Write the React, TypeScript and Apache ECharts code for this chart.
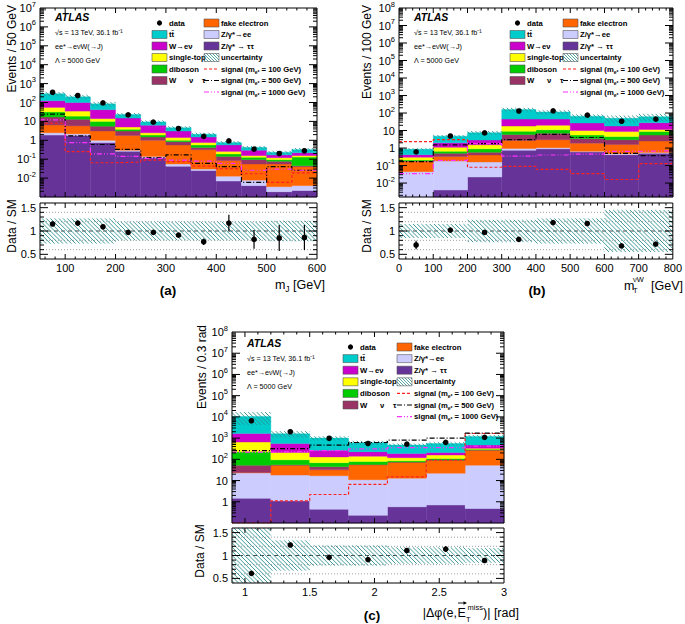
import React, { useEffect, useRef } from 'react';
import * as echarts from 'echarts';

const FONT = '"Liberation Sans", Arial, Helvetica, sans-serif';

// ---------------- background processes (stack order, bottom to top) ----------------
const PROCESS_NAMES = ['Z/γ* → ττ', 'Z/γ*→ee', 'fake electron', 'W      ν    τ', 'diboson', 'single-top', 'W→eν', 'tt\u0304'];
const PROCESS_COLORS = ['#663399', '#ccccff', '#ff6600', '#993366', '#00cc00', '#ffff00', '#cc00cc', '#00cccc'];
const SIGNAL_NAMES = ['signal (m{s|e*} = 100 GeV)', 'signal (m{s|e*} = 500 GeV)', 'signal (m{s|e*} = 1000 GeV)'];
const SIGNAL_COLORS = ['#ff2020', '#000000', '#ff30ff'];
const SIGNAL_DASH = [[3, 2], [5, 2, 1, 2], [5, 2, 1, 2, 1, 2]];
const HATCH = '#2e9090';

// ---------------- Panel (a): m_J ----------------
const aEdges = [50, 100, 150, 200, 250, 300, 350, 400, 450, 500, 550, 600];
const aZtautau = [1.9, 1.8, 0.76, 0.26, 0.12, 0.043, 0.025, 0.007, 0.004, 0.0019, 0.0022];
const aZee = [0.6, 0.4, 0.24, 0.04, 0.02, 0.013, 0.005, 0.0056, 0.0038, 0.0016, 0.0018];
const aFake = [4.0, 3.6, 2.1, 1.5, 0.86, 0.51, 0.29, 0.072, 0.048, 0.052, 0.036];
const aWtaunu = [10.5, 7.2, 2.5, 1.3, 0.5, 0.28, 0.1, 0.055, 0.04, 0.022, 0.005];
const aDiboson = [15, 6, 4.4, 0.7, 0.4, 0.15, 0.15, 0.05, 0.031, 0.018, 0.085];
const aSingleTop = [23, 16, 4, 1.2, 0.6, 0.4, 0.19, 0.07, 0.028, 0.024, 0.025];
const aWenu = [70, 65, 28, 10, 3.8, 1.7, 0.74, 0.31, 0.145, 0.05, 0.065];
const aTtbar = [165, 100, 43, 8, 3.1, 1.5, 0.6, 0.19, 0.12, 0.06, 0.1];
const aData = [350, 235, 95, 22, 9.1, 4.2, 1.6, 0.93, 0.34, 0.2, 0.28];
const aRatio = [1.15, 1.17, 1.09, 0.97, 0.97, 0.91, 0.77, 1.17, 0.82, 0.85, 0.86];
const aRatioErr = [0.02, 0.02, 0.03, 0.04, 0.04, 0.04, 0.07, 0.18, 0.2, 0.28, 0.27];
const aUnc = [0.27, 0.27, 0.27, 0.2, 0.2, 0.2, 0.2, 0.2, 0.2, 0.22, 0.22];
const aSig100 = [8, 0.25, 0.065, 0.07, 0.09, 0.075, 0.043, 0.032, 0.017, 0.006, 0.019];
const aSig500 = [24, 1.7, 0.6, 0.33, 0.12, 0.17, 0.06, 0.04, 0.006, 0.04, 0.026];
const aSig1000 = [12, 0.75, 0.19, 0.14, 0.11, 0.09, 0.08, 0.06, 0.026, 0.03, 0.026];
const aXLabels = [100, 200, 300, 400, 500, 600];
const aYLabels = [1e-2, 1e-1, 1, 10, 1e2, 1e3, 1e4, 1e5, 1e6, 1e7];

// ---------------- Panel (b): m_T^{nuW} ----------------
const bEdges = [0, 100, 200, 300, 400, 500, 600, 700, 800];
const bZtautau = [0, 0.004, 0.022, 0.75, 0.9, 0.6, 0.42, 0.5];
const bZee = [0.045, 0.176, 0.138, 0.2, 0.15, 0.05, 0.05, 0.05];
const bFake = [0.125, 0.15, 0.24, 1.75, 1.95, 1.25, 1.13, 1.95];
const bWtaunu = [0.02, 0.17, 0.18, 3.3, 4.0, 1.6, 1.4, 3.0];
const bDiboson = [0.02, 0.15, 0.32, 3.0, 4.0, 2.0, 1.5, 3.2];
const bSingleTop = [0.09, 0.45, 0.65, 9, 9, 4.5, 4.2, 2.8];
const bWenu = [0.12, 0.9, 1.35, 27, 25, 17, 9.3, 16.5];
const bTtbar = [0.43, 2.8, 4.7, 115, 70, 39, 32, 34];
const bData = [0.6, 4.9, 7.3, 130, 132, 76, 34, 45];
const bRatio = [0.70, 1.02, 0.97, 0.82, 1.18, 1.16, 0.68, 0.72];
const bRatioErr = [0.09, 0.04, 0.04, 0.02, 0.02, 0.03, 0.03, 0.03];
const bUnc = [0.15, 0.15, 0.24, 0.24, 0.27, 0.27, 0.45, 0.45];
const bSig100 = [2.3, 3.0, 0.08, 0.09, 0.06, 0.035, 0.016, 0.13];
const bSig500 = [0.17, 1.5, 1.8, 3.0, 6.0, 4.0, 0.5, 0.37];
const bSig1000 = [0.035, 0.2, 1.8, 0.35, 0.4, 0.45, 0.65, 0.7];
const bXLabels = [0, 100, 200, 300, 400, 500, 600, 700, 800];
const bYLabels = [1e-2, 1e-1, 1, 10, 1e2, 1e3, 1e4, 1e5, 1e6, 1e7, 1e8];

// ---------------- Panel (c): |dphi(e, MET)| ----------------
const cEdges = [0.9, 1.2, 1.5, 1.8, 2.1, 2.4, 2.7, 3.0];
const cZtautau = [1.45, 1.1, 0.45, 0.23, 0.58, 0.7, 0.48];
const cZee = [21.5, 17, 16.5, 10.8, 12.4, 21.3, 52.5];
const cFake = [1, 34, 15, 44, 59, 68, 212];
const cWtaunu = [29, 3, 13, 2, 2, 2, 10];
const cDiboson = [172, 40, 25, 23, 11, 18, 25];
const cSingleTop = [425, 115, 60, 60, 35, 50, 30];
const cWenu = [1000, 350, 140, 90, 70, 50, 140];
const cTtbar = [8850, 1040, 730, 380, 280, 340, 730];
const cData = [6600, 2000, 980, 560, 520, 630, 1080];
const cRatio = [0.61, 1.23, 0.96, 0.91, 1.11, 1.14, 0.89];
const cRatioErr = [0.02, 0.03, 0.04, 0.04, 0.05, 0.06, 0.03];
const cUnc = [0.6, 0.33, 0.22, 0.22, 0.18, 0.18, 0.16];
const cSig100 = [0.1, 1.1, 2.2, 6.6, 15, 92, 1650];
const cSig500 = [260, 320, 470, 620, 800, 1000, 1700];
const cSig1000 = [220, 230, 260, 310, 360, 350, 420];
const cXLabels = [1, 1.5, 2, 2.5, 3];
const cYLabels = [1, 10, 1e2, 1e3, 1e4, 1e5, 1e6, 1e7, 1e8];

const RATIO_Y_LABELS = [0.5, 1, 1.5];
const RATIO_REF_LINES = [0.6, 0.8, 1.0, 1.2, 1.4];

const PANELS: any[] = [
  {
    edges: aEdges, stack: [aZtautau, aZee, aFake, aWtaunu, aDiboson, aSingleTop, aWenu, aTtbar],
    data: aData, ratio: aRatio, ratioErr: aRatioErr, unc: aUnc, sig: [aSig100, aSig500, aSig1000],
    xLabels: aXLabels, yLabels: aYLabels,
    xMin: 50, xMax: 600, xMajor: 100, xMinor: 20, yMin: 1e-3, yMax: 1e7,
    main: { left: 40, top: 5, width: 277, height: 192 },
    rat: { left: 40, top: 203, width: 277, height: 56 },
  },
  {
    edges: bEdges, stack: [bZtautau, bZee, bFake, bWtaunu, bDiboson, bSingleTop, bWenu, bTtbar],
    data: bData, ratio: bRatio, ratioErr: bRatioErr, unc: bUnc, sig: [bSig100, bSig500, bSig1000],
    xLabels: bXLabels, yLabels: bYLabels,
    xMin: 0, xMax: 800, xMajor: 100, xMinor: 20, yMin: 0.0016, yMax: 1e8,
    main: { left: 399, top: 5, width: 274, height: 192 },
    rat: { left: 399, top: 203, width: 274, height: 56 },
  },
  {
    edges: cEdges, stack: [cZtautau, cZee, cFake, cWtaunu, cDiboson, cSingleTop, cWenu, cTtbar],
    data: cData, ratio: cRatio, ratioErr: cRatioErr, unc: cUnc, sig: [cSig100, cSig500, cSig1000],
    xLabels: cXLabels, yLabels: cYLabels,
    xMin: 0.9, xMax: 3.0, xMajor: 0.5, xMinor: 0.1, yMin: 0.1, yMax: 1e8,
    main: { left: 232, top: 332, width: 272, height: 191 },
    rat: { left: 232, top: 528, width: 272, height: 55 },
  },
];

// ---------------- helpers ----------------
function hatchSegments(x: number, y: number, w: number, h: number, spacing: number, style: any, z?: number) {
  const out: any[] = [];
  const x1 = x + w, y1 = y + h;
  const cStart = Math.ceil((y - x1) / spacing) * spacing;
  for (let c = cStart; c <= y1 - x; c += spacing) {
    const xa = Math.max(x, y - c);
    const xb = Math.min(x1, y1 - c);
    if (xb - xa > 0.05) {
      const el: any = { type: 'line', shape: { x1: xa, y1: xa + c, x2: xb, y2: xb + c }, style };
      if (z !== undefined) { el.z = z; el.silent = true; }
      out.push(el);
    }
  }
  return out;
}

function clipTo(cs: any, r: any) {
  return echarts.graphic.clipRectByRect(r, { x: cs.x, y: cs.y, width: cs.width, height: cs.height });
}

function rectFromValues(api: any, cs: any, lo: number, hi: number, top: number, base: number) {
  const pTop = api.coord([lo, top]);
  const pHi = api.coord([hi, top]);
  const bottomPx = cs.y + cs.height + 1;
  const yb = base > 0 ? api.coord([lo, base])[1] : bottomPx;
  if (!isFinite(pTop[1]) || !isFinite(yb)) return undefined;
  return clipTo(cs, { x: pTop[0], y: pTop[1], width: pHi[0] - pTop[0], height: yb - pTop[1] });
}

function logFmt(v: number) {
  const e = Math.round(Math.log10(v));
  if (e === 0) return '1';
  if (e === 1) return '10';
  return '10{sup|' + e + '}';
}

function near(v: number, step: number) {
  return Math.abs(v / step - Math.round(v / step)) < 1e-6;
}

function makeTicks(p: any, isRatio: boolean) {
  const items: any[] = [];
  const yRef = isRatio ? 1 : p.yMax;
  const i0 = Math.ceil(p.xMin / p.xMinor - 1e-6), i1 = Math.floor(p.xMax / p.xMinor + 1e-6);
  for (let i = i0; i <= i1; i++) {
    const v = i * p.xMinor;
    if (Math.abs(v - p.xMin) < 1e-9 || Math.abs(v - p.xMax) < 1e-9) continue;
    items.push([v, yRef, 0, near(v, p.xMajor) ? 1 : 0]);
  }
  if (isRatio) {
    for (let i = 5; i <= 15; i++) {
      const v = i / 10;
      items.push([p.xMin, v, 1, near(v, 0.5) ? 1 : 0]);
    }
  } else {
    const e0 = Math.floor(Math.log10(p.yMin)), e1 = Math.ceil(Math.log10(p.yMax));
    for (let e = e0; e <= e1; e++) {
      for (let m = 1; m <= 9; m++) {
        const v = m * Math.pow(10, e);
        if (v > p.yMin * 1.0001 && v < p.yMax * 0.9999) items.push([p.xMin, v, 1, m === 1 ? 1 : 0]);
      }
    }
  }
  items.push([p.xMin, yRef, 2, 0]);
  return items;
}

function tickSeries(p: any, gi: number, isRatio: boolean) {
  const xMaj = 5, xMin = 2.5, yMaj = 8, yMin = 4;
  return {
    type: 'custom', xAxisIndex: gi, yAxisIndex: gi, z: 20, silent: true,
    encode: { x: 0, y: 1 },
    data: makeTicks(p, isRatio),
    renderItem: (params: any, api: any) => {
      const cs = params.coordSys;
      const kind = api.value(2), major = api.value(3);
      const st = { stroke: '#000', lineWidth: 1 };
      if (kind === 2) {
        return { type: 'rect', shape: { x: cs.x, y: cs.y, width: cs.width, height: cs.height }, style: { fill: 'none', stroke: '#000', lineWidth: 1 } };
      }
      const pt = api.coord([api.value(0), api.value(1)]);
      if (kind === 0) {
        const L = major ? xMaj : xMin;
        const b = cs.y + cs.height;
        return { type: 'group', children: [
          { type: 'line', shape: { x1: pt[0], y1: b, x2: pt[0], y2: b - L }, style: st },
          { type: 'line', shape: { x1: pt[0], y1: cs.y, x2: pt[0], y2: cs.y + L }, style: st },
        ] };
      }
      const L = major ? yMaj : yMin;
      const r = cs.x + cs.width;
      return { type: 'group', children: [
        { type: 'line', shape: { x1: cs.x, y1: pt[1], x2: cs.x + L, y2: pt[1] }, style: st },
        { type: 'line', shape: { x1: r, y1: pt[1], x2: r - L, y2: pt[1] }, style: st },
      ] };
    },
  };
}

function text(x: number, y: number, t: string, o: any = {}) {
  const align = o.align || 'left';
  const valign = o.valign || 'middle';
  return {
    type: 'text', x, y, rotation: o.rotation || 0, silent: true, z: 100,
    style: {
      text: t, fill: '#000', fontFamily: FONT, fontSize: o.size || 8,
      fontWeight: o.weight || 'normal', fontStyle: o.italic ? 'italic' : 'normal',
      align, verticalAlign: valign, textAlign: align, textVerticalAlign: valign,
      rich: o.rich,
    },
  };
}

function legendGraphic(atlasX: number, atlasY: number, c1x: number, c2x: number, y0: number, step: number) {
  const els: any[] = [];
  const bw = 15, bh = 8, fs = 7.7;
  els.push(text(atlasX, atlasY, 'ATLAS', { size: 10.5, weight: 'bold', italic: true }));
  els.push(text(atlasX, atlasY + 15.5, '√s = 13 TeV, 36.1 fb⁻¹', { size: 7.2 }));
  els.push(text(atlasX, atlasY + 29.5, 'ee*→eνW(→J)', { size: 7.2 }));
  els.push(text(atlasX, atlasY + 43.5, 'Λ = 5000 GeV', { size: 7.2 }));
  // column 1
  const col1 = [7, 6, 5, 4, 3];
  els.push({ type: 'circle', silent: true, z: 100, shape: { cx: c1x + bw / 2, cy: y0, r: 2.6 }, style: { fill: '#000' } });
  els.push(text(c1x + 17, y0, 'data', { size: fs, weight: 'bold' }));
  col1.forEach((k, i) => {
    const y = y0 + (i + 1) * step;
    els.push({ type: 'rect', silent: true, z: 100, shape: { x: c1x, y: y - bh / 2, width: bw, height: bh }, style: { fill: PROCESS_COLORS[k], stroke: '#555', lineWidth: 0.6 } });
    els.push(text(c1x + 17, y, PROCESS_NAMES[k], { size: fs, weight: 'bold' }));
  });
  // column 2
  const col2 = [2, 1, 0];
  col2.forEach((k, i) => {
    const y = y0 + i * step;
    els.push({ type: 'rect', silent: true, z: 100, shape: { x: c2x, y: y - bh / 2, width: bw, height: bh }, style: { fill: PROCESS_COLORS[k], stroke: '#555', lineWidth: 0.6 } });
    els.push(text(c2x + 17, y, PROCESS_NAMES[k], { size: fs, weight: 'bold' }));
  });
  {
    const y = y0 + 3 * step;
    els.push(...hatchSegments(c2x, y - bh / 2, bw, bh, 3, { stroke: HATCH, lineWidth: 0.8 }, 100));
    els.push({ type: 'rect', silent: true, z: 101, shape: { x: c2x, y: y - bh / 2, width: bw, height: bh }, style: { fill: 'none', stroke: '#555', lineWidth: 0.6 } });
    els.push(text(c2x + 17, y, 'uncertainty', { size: fs, weight: 'bold' }));
  }
  SIGNAL_NAMES.forEach((nm, i) => {
    const y = y0 + (4 + i) * step;
    els.push({ type: 'line', silent: true, z: 100, shape: { x1: c2x, y1: y, x2: c2x + bw, y2: y }, style: { stroke: SIGNAL_COLORS[i], lineWidth: 1.2, lineDash: SIGNAL_DASH[i] } });
    els.push(text(c2x + 17, y, nm, {
      size: fs, weight: 'bold',
      rich: { s: { fontSize: 5, fontWeight: 'bold', fontFamily: FONT, fill: '#000', padding: [5, 0, 0, 0] } },
    }));
  });
  return els;
}

function buildOption() {
  const grid: any[] = [], xAxis: any[] = [], yAxis: any[] = [], series: any[] = [];
  const axisOff = { axisLine: { show: false }, axisTick: { show: false }, splitLine: { show: false }, minorTick: { show: false } };
  const labelBase = { fontSize: 11, fontFamily: FONT, color: '#000' };

  PANELS.forEach((p, pi) => {
    const gm = pi * 2, gr = pi * 2 + 1;
    grid.push({ ...p.main, show: false });
    grid.push({ ...p.rat, show: false });
    xAxis.push({ type: 'value', gridIndex: gm, min: p.xMin, max: p.xMax, ...axisOff, axisLabel: { show: false } });
    xAxis.push({
      type: 'value', gridIndex: gr, min: p.xMin, max: p.xMax, ...axisOff,
      axisLabel: { ...labelBase, margin: 3, customValues: p.xLabels, formatter: (v: number) => String(Math.round(v * 10) / 10) },
    });
    yAxis.push({
      type: 'log', logBase: 10, gridIndex: gm, min: p.yMin, max: p.yMax, ...axisOff,
      axisLabel: {
        ...labelBase, margin: 4, customValues: p.yLabels, formatter: logFmt,
        rich: { sup: { fontSize: 7.5, fontFamily: FONT, color: '#000', padding: [0, 0, 8, 0] } },
      },
    });
    yAxis.push({
      type: 'value', gridIndex: gr, min: 0.4, max: 1.6, ...axisOff,
      axisLabel: { ...labelBase, margin: 4, customValues: RATIO_Y_LABELS, formatter: (v: number) => String(Math.round(v * 10) / 10) },
    });

    const nb = p.edges.length - 1;
    // stacked background histograms
    const cum = new Array(nb).fill(0);
    p.stack.forEach((vals: number[], k: number) => {
      const items: any[] = [];
      for (let i = 0; i < nb; i++) {
        const base = cum[i];
        const top = base + vals[i];
        cum[i] = top;
        if (vals[i] > 0) items.push([p.edges[i], p.edges[i + 1], top, base]);
      }
      const color = PROCESS_COLORS[k];
      series.push({
        type: 'custom', name: PROCESS_NAMES[k], xAxisIndex: gm, yAxisIndex: gm, z: 2, silent: true,
        encode: { x: [0, 1], y: 2 }, data: items,
        renderItem: (params: any, api: any) => {
          const r = rectFromValues(api, params.coordSys, api.value(0), api.value(1), api.value(2), api.value(3));
          if (!r) return;
          return { type: 'rect', shape: r, style: { fill: color, stroke: color, lineWidth: 0.4 } };
        },
      });
    });
    const totals = cum.slice();

    // uncertainty hatch on the stack
    const hatchMain = totals.map((t: number, i: number) => [p.edges[i], p.edges[i + 1], t * (1 + p.unc[i]), t * (1 - p.unc[i])]);
    const hatchRatio = p.unc.map((u: number, i: number) => [p.edges[i], p.edges[i + 1], 1 + u, 1 - u]);
    const hatchRender = (params: any, api: any) => {
      const r = rectFromValues(api, params.coordSys, api.value(0), api.value(1), api.value(2), api.value(3));
      if (!r) return;
      return { type: 'group', children: hatchSegments(r.x, r.y, r.width, r.height, 4.2, { stroke: HATCH, lineWidth: 0.9 }) };
    };
    series.push({ type: 'custom', xAxisIndex: gm, yAxisIndex: gm, z: 3, silent: true, encode: { x: [0, 1], y: 2 }, data: hatchMain, renderItem: hatchRender });

    // signals (step histograms)
    p.sig.forEach((vals: number[], s: number) => {
      const d = p.edges.map((e: number, i: number) => [e, vals[Math.min(i, nb - 1)]]);
      series.push({
        type: 'line', xAxisIndex: gm, yAxisIndex: gm, z: 4, silent: true, step: 'end', symbol: 'none', clip: true,
        data: d, lineStyle: { color: SIGNAL_COLORS[s], width: 1.2, type: SIGNAL_DASH[s] },
      });
    });

    // data points (main)
    const centers = p.edges.slice(0, nb).map((e: number, i: number) => (e + p.edges[i + 1]) / 2);
    const pointRender = (params: any, api: any) => {
      const x = api.value(0), y = api.value(1), err = api.value(2);
      const c = api.coord([x, y]);
      const children: any[] = [];
      if (err > 0) {
        const a = api.coord([x, y + err]), b = api.coord([x, y - err]);
        children.push({ type: 'line', shape: { x1: c[0], y1: a[1], x2: c[0], y2: b[1] }, style: { stroke: '#000', lineWidth: 1.2 } });
      }
      children.push({ type: 'circle', shape: { cx: c[0], cy: c[1], r: 2.8 }, style: { fill: '#000' } });
      return { type: 'group', children };
    };
    series.push({
      type: 'custom', xAxisIndex: gm, yAxisIndex: gm, z: 5, silent: true, encode: { x: 0, y: 1 },
      data: p.data.map((v: number, i: number) => [centers[i], v, 0]), renderItem: pointRender,
    });
    series.push(tickSeries(p, gm, false));

    // ratio panel
    series.push({
      type: 'custom', xAxisIndex: gr, yAxisIndex: gr, z: 1, silent: true, encode: { x: 0, y: 1 },
      data: RATIO_REF_LINES.map((v) => [p.xMin, v]),
      renderItem: (params: any, api: any) => {
        const cs = params.coordSys;
        const v = api.value(1);
        const y = api.coord([api.value(0), v])[1];
        const main = Math.abs(v - 1) < 1e-6;
        return { type: 'line', shape: { x1: cs.x, y1: y, x2: cs.x + cs.width, y2: y }, style: { stroke: main ? '#333' : '#777', lineWidth: main ? 0.9 : 0.7, lineDash: main ? [4, 3] : [1, 2] } };
      },
    });
    series.push({ type: 'custom', xAxisIndex: gr, yAxisIndex: gr, z: 3, silent: true, encode: { x: [0, 1], y: 2 }, data: hatchRatio, renderItem: hatchRender });
    series.push({
      type: 'custom', xAxisIndex: gr, yAxisIndex: gr, z: 5, silent: true, encode: { x: 0, y: 1 },
      data: p.ratio.map((v: number, i: number) => [centers[i], v, p.ratioErr[i]]), renderItem: pointRender,
    });
    series.push(tickSeries(p, gr, true));
  });

  const T = 12;
  const subRich = { sub: { fontSize: 8.5, fontFamily: FONT, fill: '#000', padding: [7, 0, 0, 0] } };
  const graphic: any[] = [
    ...legendGraphic(55, 17, 152, 204, 23, 11.5),
    ...legendGraphic(414, 17, 510, 563, 23, 11.5),
    ...legendGraphic(247, 343, 343, 397, 347, 11.6),
    // y titles
    text(12, 5, 'Events / 50 GeV', { size: T, rotation: Math.PI / 2, align: 'right' }),
    text(12, 226, 'Data / SM', { size: T, rotation: Math.PI / 2, align: 'center' }),
    text(367, 5, 'Events / 100 GeV', { size: T, rotation: Math.PI / 2, align: 'right' }),
    text(367, 226, 'Data / SM', { size: T, rotation: Math.PI / 2, align: 'center' }),
    text(202, 325, 'Events / 0.3 rad', { size: T, rotation: Math.PI / 2, align: 'right' }),
    text(200, 551, 'Data / SM', { size: T, rotation: Math.PI / 2, align: 'center' }),
    // x titles
    text(325, 285, 'm{sub|J} [GeV]', { size: 12.5, align: 'right', rich: subRich }),
    text(624, 286, 'm', { size: 12.5 }),
    text(633, 279, 'νW', { size: 7.5 }),
    text(633, 290.5, 'T', { size: 7.5 }),
    text(683, 286, '[GeV]', { size: 12.5, align: 'right' }),
    text(457, 613, '|Δφ(e,', { size: 12.5, align: 'right' }),
    text(457.5, 613, 'E', { size: 12.5 }),
    { type: 'line', silent: true, z: 100, shape: { x1: 458, y1: 603, x2: 465, y2: 603 }, style: { stroke: '#000', lineWidth: 0.9 } },
    { type: 'polygon', silent: true, z: 100, shape: { points: [[467, 603], [463.5, 601.3], [463.5, 604.7]] }, style: { fill: '#000' } },
    text(467.5, 607, 'miss', { size: 7.5 }),
    text(466, 619, 'T', { size: 7.5 }),
    text(483, 613, ')| [rad]', { size: 12.5 }),
    // panel letters
    text(168, 290, '(a)', { size: 13.5, weight: 'bold', align: 'center' }),
    text(537, 290, '(b)', { size: 13.5, weight: 'bold', align: 'center' }),
    text(372, 615, '(c)', { size: 13.5, weight: 'bold', align: 'center' }),
  ];

  return { animation: false, backgroundColor: '#ffffff', grid, xAxis, yAxis, series, graphic };
}

export default function App() {
  const ref = useRef<HTMLDivElement>(null);
  useEffect(() => {
    const chart = echarts.init(ref.current as HTMLDivElement, null, { renderer: 'svg' });
    chart.setOption(buildOption() as any);
    return () => chart.dispose();
  }, []);
  return <div ref={ref} style={{ position: 'absolute', left: 0, top: 0, width: 685, height: 624 }} />;
}
